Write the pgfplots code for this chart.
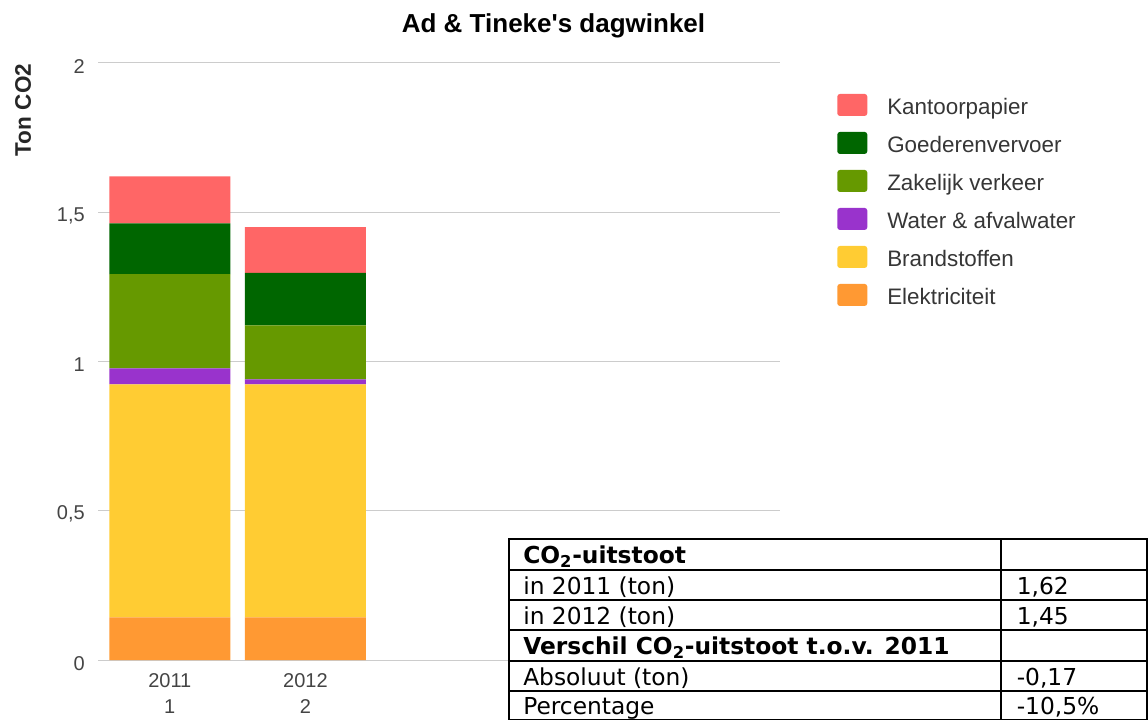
\documentclass[border=0pt]{standalone}
\usepackage{fontspec}
\setmainfont{Liberation Sans}
\newfontfamily\tablefont{DejaVu Sans}
\usepackage{pgfplots}
\pgfplotsset{compat=1.18}

\definecolor{kantoor}{HTML}{FF6666}
\definecolor{goederen}{HTML}{006600}
\definecolor{zakelijk}{HTML}{669900}
\definecolor{water}{HTML}{9933CC}
\definecolor{brandstof}{HTML}{FFCC33}
\definecolor{elektra}{HTML}{FF9933}
\definecolor{gridgray}{HTML}{CCCCCC}
\definecolor{labelgray}{HTML}{444444}
\definecolor{ticktint}{HTML}{C8D0DC}

\pgfplotsset{
  sqleg/.style={legend image code/.code={
    \path[fill=none, draw=none] (0pt,-7pt) rectangle (22.5pt,16pt);
    \fill[##1,rounded corners=2pt] (0pt,-1.3pt) rectangle (22.5pt,15.2pt);}},
}

\begin{document}
\begin{tikzpicture}
\path[use as bounding box] (0pt,0pt) rectangle (861pt,-540pt);

\begin{axis}[
  at={(76.5pt,-495pt)}, anchor=south west,
  scale only axis, width=508.5pt, height=447.75pt,
  xmin=0.5, xmax=5.5, ymin=0, ymax=2,
  ybar stacked, bar width=90.75pt,
  axis line style={draw=none},
  ymajorgrids, grid style={color=gridgray, line width=0.75pt},
  tick align=outside, tick pos=left,
  major tick length=3pt, minor tick length=6pt,
  ytick={0,0.5,1,1.5,2},
  ytick style={color=gridgray, line width=0.75pt},
  xtick={1,2}, xticklabels={{2011\\1},{2012\\2}},
  xtick style={draw=none},
  minor xtick={0.5,1.5,2.5},
  minor x tick style={color=ticktint, line width=0.75pt},
  /pgf/number format/use comma,
  /pgf/number format/assume math mode=true,
  yticklabel style={font=\fontsize{15}{18}\selectfont, text=labelgray,
    inner sep=0pt, xshift=-9.75pt, yshift=-2.5pt},
  xticklabel style={font=\fontsize{15}{19.5}\selectfont, text=labelgray,
    align=center, inner sep=0pt, yshift=-6.75pt},
  reverse legend,
  legend cell align=left,
  legend style={at={(1.0841,0.9504)}, anchor=north west, draw=none, fill=none,
    inner sep=0pt, row sep=5.5pt,
    font=\fontsize{16.8}{18}\selectfont, text=labelgray!80!black,
    cells={anchor=base west},
    nodes={inner sep=0pt},
    /tikz/every odd column/.append style={column sep=15pt}},
]
\addplot[fill=elektra, draw=none, sqleg] coordinates {(1,0.143) (2,0.143)};
\addplot[fill=brandstof, draw=none, sqleg] coordinates {(1,0.780) (2,0.780)};
\addplot[fill=water, draw=none, sqleg] coordinates {(1,0.054) (2,0.017)};
\addplot[fill=zakelijk, draw=none, sqleg] coordinates {(1,0.316) (2,0.181)};
\addplot[fill=goederen, draw=none, sqleg] coordinates {(1,0.170) (2,0.176)};
\addplot[fill=kantoor, draw=none, sqleg] coordinates {(1,0.157) (2,0.153)};
\legend{Elektriciteit, Brandstoffen, Water \& afvalwater, Zakelijk verkeer, Goederenvervoer, Kantoorpapier}
\end{axis}

\begin{scope}[x=0.75pt, y=-0.75pt]
  % title and y label
  \node[anchor=base, inner sep=0pt, font=\fontsize{19.5}{22}\selectfont\bfseries]
    at (553.5,32.3) {Ad \& Tineke\textquotesingle s dagwinkel};
  \node[rotate=90, inner sep=0pt, font=\fontsize{16.9}{19}\selectfont\bfseries, text=black!85]
    at (23,110) {Ton CO2};

  % table
  \fill[white] (509,539) rectangle (1147,720);
  \draw[line width=1.5pt] (509,539) rectangle (1147,719.5);
  \foreach \yy in {569.5,600,630,660.5,691}
    \draw[line width=1.5pt] (509,\yy) -- (1147,\yy);
  \draw[line width=1.5pt] (1001,539) -- (1001,719.5);
  \begin{scope}[every node/.style={anchor=base west, inner sep=0pt,
      font=\tablefont\fontsize{17.5}{20}\selectfont}]
    \node at (523,563.5) {\bfseries CO\textsubscript{2}-uitstoot};
    \node at (523,594) {in 2011 (ton)};
    \node at (523,624) {in 2012 (ton)};
    \node at (523,654.5) {\bfseries Verschil CO\textsubscript{2}-uitstoot t.o.v. 2011};
    \node at (523,685) {Absoluut (ton)};
    \node at (523,714) {Percentage};
    \node at (1016.5,594) {1,62};
    \node at (1016.5,624) {1,45};
    \node at (1016.5,685) {-0,17};
    \node at (1016.5,714) {-10,5\%};
  \end{scope}
\end{scope}
\end{tikzpicture}
\end{document}
